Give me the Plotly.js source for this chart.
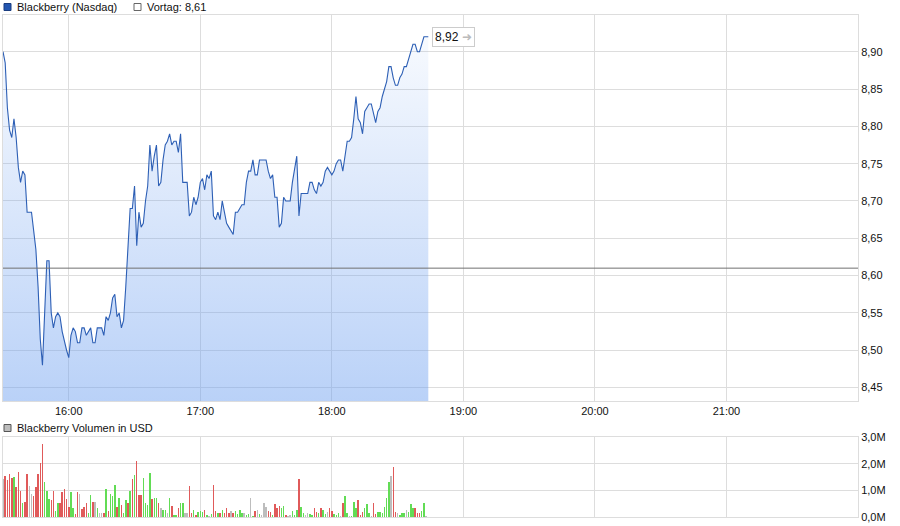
<!DOCTYPE html>
<html>
<head>
<meta charset="utf-8">
<script src="https://cdn.plot.ly/plotly-3.0.1.min.js"></script>
<style>
  html, body { margin: 0; padding: 0; background: #ffffff; }
  #chart { width: 900px; height: 526px; }
</style>
</head>
<body>
<div id="chart"></div>
<script>
// ---------------- DATA ----------------
const seriesName = "Blackberry (Nasdaq)";
const volumeName = "Blackberry Volumen in USD";
const prevClose = 8.61;
const sessionDate = "2024-01-02";
const startTime = "15:30";           // first minute bar
const axisStart = "15:30";
const axisEnd = "22:00";
const timeTicks = ["16:00", "17:00", "18:00", "19:00", "20:00", "21:00"];
const priceTicks = [8.45, 8.50, 8.55, 8.60, 8.65, 8.70, 8.75, 8.80, 8.85, 8.90];
const volumeTicks = [0, 1, 2, 3];   // millions

// one value per minute from 15:30
const prices = [
  8.90, 8.885, 8.825, 8.795, 8.785, 8.81, 8.785, 8.745, 8.725, 8.74,
  8.735, 8.685, 8.685, 8.685, 8.66, 8.635, 8.585, 8.515, 8.48, 8.54,
  8.62, 8.62, 8.55, 8.53, 8.545, 8.55, 8.545, 8.525, 8.51, 8.50,
  8.49, 8.52, 8.53, 8.525, 8.51, 8.51, 8.53, 8.53, 8.52, 8.525,
  8.53, 8.51, 8.51, 8.53, 8.53, 8.53, 8.52, 8.545, 8.54, 8.55,
  8.57, 8.575, 8.545, 8.55, 8.53, 8.54, 8.585, 8.645, 8.69, 8.69,
  8.72, 8.64, 8.685, 8.665, 8.67, 8.70, 8.72, 8.775, 8.74, 8.76,
  8.775, 8.72, 8.725, 8.755, 8.775, 8.78, 8.79, 8.775, 8.78, 8.78,
  8.765, 8.79, 8.725, 8.725, 8.725, 8.68, 8.685, 8.705, 8.695, 8.705,
  8.725, 8.73, 8.715, 8.735, 8.73, 8.74, 8.68, 8.675, 8.685, 8.675,
  8.70, 8.685, 8.67, 8.665, 8.66, 8.655, 8.685, 8.685, 8.69, 8.695,
  8.695, 8.725, 8.74, 8.74, 8.755, 8.735, 8.735, 8.755, 8.755, 8.755,
  8.755, 8.74, 8.73, 8.735, 8.705, 8.705, 8.665, 8.67, 8.705, 8.70,
  8.70, 8.70, 8.725, 8.74, 8.76, 8.68, 8.71, 8.71, 8.71, 8.71,
  8.725, 8.725, 8.715, 8.71, 8.725, 8.72, 8.725, 8.74, 8.745, 8.74,
  8.735, 8.74, 8.75, 8.755, 8.755, 8.74, 8.76, 8.78, 8.78, 8.785,
  8.81, 8.84, 8.81, 8.805, 8.79, 8.82, 8.825, 8.83, 8.83, 8.815,
  8.805, 8.82, 8.825, 8.84, 8.85, 8.86, 8.88, 8.88, 8.865, 8.855,
  8.855, 8.865, 8.87, 8.88, 8.88, 8.89, 8.90, 8.91, 8.91, 8.90,
  8.90, 8.91, 8.92, 8.92, 8.92
];

// volume per minute, in millions USD
const volumes = [
  1.42, 1.53, 1.38, 1.61, 1.47, 1.51, 1.13, 1.68, 0.97, 0.51,
  0.56, 1.61, 1.15, 0.87, 0.77, 1.11, 1.61, 2.03, 2.75, 1.30,
  0.96, 0.66, 0.62, 0.96, 0.24, 0.54, 0.51, 0.92, 1.04, 0.66,
  0.39, 0.92, 0.33, 0.13, 0.92, 0.85, 0.29, 0.39, 0.54, 0.16,
  0.81, 0.58, 0.58, 0.35, 0.16, 0.16, 0.16, 1.04, 0.24, 0.85,
  0.77, 1.19, 0.39, 0.73, 0.44, 0.14, 0.62, 0.51, 0.96, 1.42,
  1.57, 2.10, 0.81, 0.81, 1.46, 0.54, 0.44, 1.65, 0.66, 0.73,
  0.73, 0.51, 0.32, 0.28, 0.28, 0.16, 0.73, 0.43, 0.09, 0.09,
  0.35, 0.51, 0.54, 0.16, 0.16, 1.15, 0.16, 0.28, 0.09, 0.20,
  0.24, 0.20, 0.28, 0.09, 0.05, 0.13, 1.19, 0.24, 0.16,
  0.16, 0.28, 0.16, 0.35, 0.16, 0.24, 0.16, 0.24, 0.13, 0.28,
  0.16, 0.16, 0.06, 0.13, 0.70, 0.05, 0.24, 0.28, 0.13, 0.09,
  0.51, 0.39, 0.24, 0.20, 0.09, 0.47, 0.32, 0.43, 0.32, 0.43,
  0.09, 0.05, 0.09, 0.24, 0.09, 0.28, 1.42, 0.39, 0.16, 0.09,
  0.16, 0.13, 0.09, 0.32, 0.20, 0.16, 0.32, 0.28, 0.13, 0.20,
  0.32, 0.24, 0.13, 0.09, 0.16, 0.05, 0.51, 0.77, 0.16, 0.05,
  0.05, 0.58, 0.35, 0.62, 0.09, 0.20, 0.32, 0.47, 0.16, 0.05,
  0.54, 0.13, 0.20, 0.20, 0.16, 0.39, 0.73, 1.30, 1.53, 1.87,
  0.20, 0.16, 0.09, 0.16, 0.16, 0.28, 0.20, 0.47, 0.35, 0.32,
  0.16, 0.16, 0.24, 0.51, 0.05, 0.01
];

// bar colour codes: r = down, g = up, n = unchanged
const volumeDirections = [
  "n","r","r","r","r","g","r","r","r","g",
  "r","r","n","n","r","r","r","r","r","g",
  "g","g","r","r","g","g","r","r","r","r",
  "r","g","g","r","r","n","r","r","r","g",
  "g","r","n","g","n","n","r","g","r","g",
  "g","g","r","g","r","g","g","r","g","r",
  "g","r","r","r","g","g","g","g","r","g",
  "g","r","n","g","g","n","g","r","g","g",
  "r","g","g","n","n","r","r","g","r","g",
  "g","g","r","g","n","g","r","r","g",
  "r","g","r","r","r","n","r","g","g","g",
  "g","n","g","g","n","g","r","n","g","n",
  "n","n","r","r","g","r","r","r","g","g",
  "r","n","n","g","g","g","r","g","g","n",
  "n","g","g","r","r","g","r","g","g","n",
  "r","r","g","g","g","n","r","g","g","n",
  "g","g","g","r","r","r","g","g","g","n",
  "r","r","g","g","g","g","g","g","n","r",
  "r","n","g","g","g","n","g","g","g","r",
  "r","r","g","g","n","n"
];

// ---------------- BUILD ----------------
function minuteStamp(startHHMM, addMin) {
  const [h, m] = startHHMM.split(":").map(Number);
  const t = h * 60 + m + addMin;
  const hh = String(Math.floor(t / 60)).padStart(2, "0");
  const mm = String(t % 60).padStart(2, "0");
  return sessionDate + " " + hh + ":" + mm;
}
const times = prices.map((_, i) => minuteStamp(startTime, i));
const volTimes = volumes.map((_, i) => minuteStamp(startTime, i));
const dirColor = { r: "#e05a5a", g: "#62dc55", n: "#bdbdbd" };
const barColors = volumeDirections.map(d => dirColor[d]);
const tickDates = timeTicks.map(t => sessionDate + " " + t);
const fmt = v => v.toFixed(2).replace(".", ",");

// pixel helpers for the 900x526 canvas
const W = 900, H = 526, ML = 3, MR = 42, MT = 15, MB = 9;
const PW = W - ML - MR, PH = H - MT - MB;
const px = x => (x - ML) / PW;
const py = y => (H - MB - y) / PH;

const FONT = "Arial, 'Liberation Sans', sans-serif";
const GRID = "#dddddd";

const lastIdx = prices.length - 1;

const traces = [
  {
    type: "scatter",
    mode: "lines",
    x: times,
    y: prices,
    xaxis: "x",
    yaxis: "y",
    line: { color: "#2d5fb5", width: 1.1 },
    fill: "tozeroy",
    fillgradient: {
      type: "vertical",
      start: 8.432,
      stop: 8.95,
      colorscale: [[0, "rgba(110,160,240,0.48)"], [1, "rgba(110,160,240,0.03)"]]
    },
    hoverinfo: "skip",
    showlegend: false
  },
  {
    type: "bar",
    x: volTimes,
    y: volumes,
    xaxis: "x2",
    yaxis: "y2",
    width: 40000,
    marker: { color: barColors, line: { width: 0 } },
    hoverinfo: "skip",
    showlegend: false
  }
];

const layout = {
  width: W,
  height: H,
  margin: { l: ML, r: MR, t: MT, b: MB, pad: 0 },
  paper_bgcolor: "#ffffff",
  plot_bgcolor: "#ffffff",
  separators: ",.",
  font: { family: FONT, size: 11, color: "#111111" },
  showlegend: false,
  bargap: 0,
  xaxis: {
    type: "date",
    anchor: "y",
    range: [sessionDate + " " + axisStart, sessionDate + " " + axisEnd],
    tickmode: "array",
    tickvals: tickDates,
    ticktext: timeTicks,
    showgrid: true,
    gridcolor: GRID,
    gridwidth: 1,
    showline: true,
    linecolor: GRID,
    mirror: true,
    ticks: "",
    zeroline: false,
    tickfont: { family: FONT, size: 11, color: "#111111" },
    fixedrange: true
  },
  yaxis: {
    domain: [py(401), 1],
    anchor: "x",
    side: "right",
    range: [8.432, 8.9492],
    tickmode: "array",
    tickvals: priceTicks,
    ticktext: priceTicks.map(fmt),
    showgrid: true,
    gridcolor: GRID,
    showline: true,
    linecolor: GRID,
    mirror: true,
    ticks: "",
    zeroline: false,
    tickfont: { family: FONT, size: 11, color: "#111111" },
    fixedrange: true
  },
  xaxis2: {
    type: "date",
    anchor: "y2",
    matches: "x",
    range: [sessionDate + " " + axisStart, sessionDate + " " + axisEnd],
    tickmode: "array",
    tickvals: tickDates,
    showticklabels: false,
    showgrid: true,
    gridcolor: GRID,
    showline: true,
    linecolor: GRID,
    mirror: true,
    ticks: "",
    zeroline: false,
    fixedrange: true
  },
  yaxis2: {
    domain: [0, py(437)],
    anchor: "x2",
    side: "right",
    range: [0, 3.0],
    tickmode: "array",
    tickvals: volumeTicks,
    ticktext: volumeTicks.map(v => v.toFixed(1).replace(".", ",") + "M"),
    showgrid: true,
    gridcolor: GRID,
    showline: true,
    linecolor: GRID,
    mirror: true,
    ticks: "",
    zeroline: false,
    tickfont: { family: FONT, size: 11, color: "#111111" },
    fixedrange: true
  },
  shapes: [
    // previous close line
    { type: "line", xref: "paper", yref: "y", x0: 0, x1: 1, y0: prevClose, y1: prevClose,
      line: { color: "#707070", width: 1 } },
    // legend squares
    { type: "rect", xref: "paper", yref: "paper", x0: px(4), x1: px(11), y0: py(10.5), y1: py(3.5),
      fillcolor: "#2356b0", line: { color: "#1a3d80", width: 1 } },
    { type: "rect", xref: "paper", yref: "paper", x0: px(134), x1: px(141), y0: py(10.5), y1: py(3.5),
      fillcolor: "#ffffff", line: { color: "#666666", width: 1 } },
    { type: "rect", xref: "paper", yref: "paper", x0: px(4), x1: px(11), y0: py(431.5), y1: py(424.5),
      fillcolor: "#bdbdbd", line: { color: "#555555", width: 1 } }
  ],
  annotations: [
    { xref: "paper", yref: "paper", x: px(15), y: py(7), xanchor: "left", yanchor: "middle",
      text: seriesName, showarrow: false, font: { family: FONT, size: 11, color: "#111111" } },
    { xref: "paper", yref: "paper", x: px(145), y: py(7), xanchor: "left", yanchor: "middle",
      text: "Vortag: " + fmt(prevClose), showarrow: false, font: { family: FONT, size: 11, color: "#111111" } },
    { xref: "paper", yref: "paper", x: px(15), y: py(428), xanchor: "left", yanchor: "middle",
      text: volumeName, showarrow: false, font: { family: FONT, size: 11, color: "#111111" } },
    { xref: "x", yref: "y", x: times[lastIdx], y: prices[lastIdx], xanchor: "left", yanchor: "middle",
      xshift: 4, text: fmt(prices[lastIdx]) + " <span style='color:#bbbbbb'>➜</span>", showarrow: false,
      bgcolor: "#ffffff", bordercolor: "#cccccc", borderwidth: 1, borderpad: 2,
      font: { family: FONT, size: 12, color: "#111111" } }
  ]
};

Plotly.newPlot("chart", traces, layout, { staticPlot: true, displayModeBar: false });
</script>
</body>
</html>
